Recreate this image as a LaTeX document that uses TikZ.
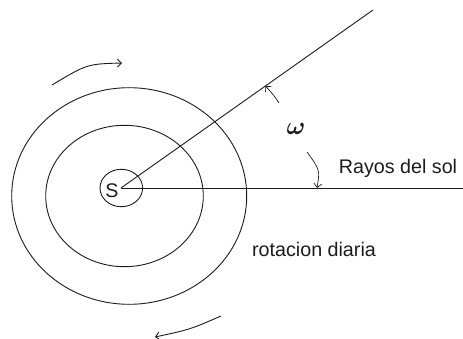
\documentclass[tikz,border=0pt]{standalone}
\usepackage{fontspec}
\setmainfont{Liberation Sans}
\usepackage{amsmath}
\usetikzlibrary{arrows.meta}
\definecolor{trazo}{HTML}{1C1C1C}

\begin{document}
\begin{tikzpicture}[x=1pt,y=-1pt,line width=0.9pt,trazo,
  etiqueta/.style={font=\fontsize{19.7}{22}\selectfont,inner sep=0pt},
  flecha/.style={-{Straight Barb[length=4pt,width=8pt]}}]
\useasboundingbox (0,0) rectangle (463,339);
\draw (121.3,188) ellipse [x radius=21.3,y radius=18.7];
\draw (124.5,196) ellipse [x radius=78.8,y radius=70.7];
\draw (129.2,196) ellipse [x radius=117.5,y radius=108.3];
\coordinate (centro) at (121,188);
\coordinate (finRayo) at (463,188);
\coordinate (finHaz) at (373,10);
\node[etiqueta,anchor=base] (sol) at (112,197) {S};
\draw (centro) -- (finRayo);
\draw (centro) -- (finHaz);
\node[etiqueta,anchor=base] (rayos) at (398,174) {Rayos del sol};
\node[etiqueta,anchor=base] (rotacion) at (314,256) {rotacion diaria};
\node[font=\fontsize{27}{30}\selectfont,inner sep=0pt] (omega) at (296,128.5) {$\boldsymbol{\omega}$};
\coordinate (a1) at (279,103);
\coordinate (a2) at (265.5,86);
\coordinate (b1) at (307,152);
\coordinate (b2) at (317,188);
\draw[flecha,line width=0.7pt] (a1) .. controls (274,95.5) .. (a2);
\draw[flecha,line width=0.7pt] (b1) .. controls (320,170) .. (b2);
\coordinate (r1) at (52,85);
\coordinate (r2) at (122,63);
\coordinate (r3) at (221,316);
\coordinate (r4) at (155,337);
\draw[flecha] (r1) .. controls (87,64) .. (r2);
\draw[flecha] (r3) .. controls (190,329.5) .. (r4);
\end{tikzpicture}
\end{document}
